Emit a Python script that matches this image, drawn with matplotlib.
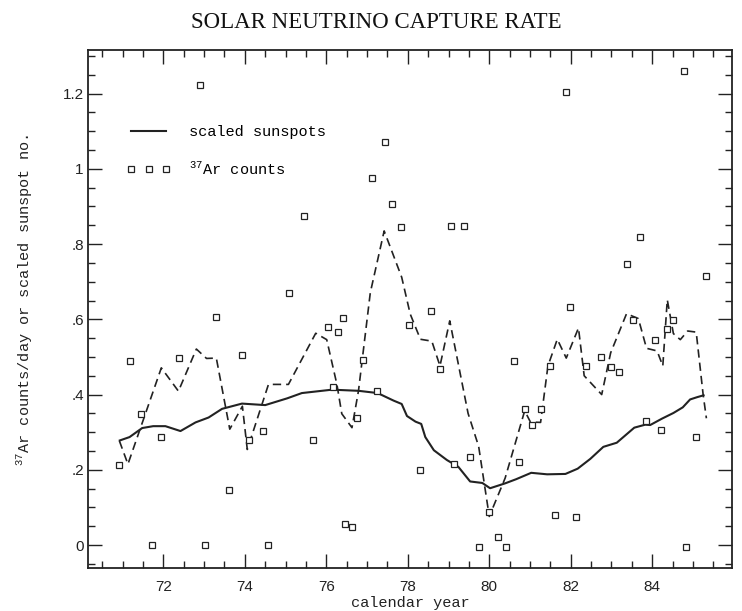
import matplotlib
matplotlib.use("Agg")
import matplotlib.pyplot as plt
from matplotlib.ticker import MultipleLocator, FixedLocator

plt.rcParams['mathtext.fontset'] = 'custom'
plt.rcParams['mathtext.rm'] = 'Liberation Mono'

# individual 37Ar runs (year, counts/day)
run_year = [70.92, 71.18, 71.45, 71.71, 71.95, 72.39, 72.91, 73.03, 73.30, 73.62,
            73.93, 74.09, 74.44, 74.56, 75.09, 75.46, 75.67, 76.03, 76.17, 76.28,
            76.40, 76.47, 76.62, 76.75, 76.90, 77.11, 77.25, 77.44, 77.61, 77.83,
            78.02, 78.29, 78.58, 78.80, 79.06, 79.13, 79.39, 79.53, 79.74, 79.99,
            80.21, 80.40, 80.60, 80.72, 80.88, 81.04, 81.28, 81.50, 81.62, 81.88,
            81.98, 82.14, 82.37, 82.75, 83.00, 83.19, 83.39, 83.52, 83.69, 83.85,
            84.06, 84.22, 84.37, 84.51, 84.79, 84.83, 85.07, 85.33]
run_rate = [0.213, 0.489, 0.349, 0.000, 0.288, 0.496, 1.222, 0.000, 0.605, 0.147,
            0.504, 0.279, 0.303, 0.000, 0.669, 0.874, 0.280, 0.580, 0.419, 0.567,
            0.603, 0.057, 0.047, 0.339, 0.492, 0.976, 0.409, 1.072, 0.906, 0.846,
            0.586, 0.199, 0.623, 0.468, 0.848, 0.215, 0.848, 0.235, -0.005, 0.087,
            0.021, -0.005, 0.488, 0.222, 0.361, 0.319, 0.361, 0.475, 0.080, 1.205,
            0.633, 0.074, 0.476, 0.501, 0.473, 0.460, 0.748, 0.599, 0.820, 0.329,
            0.544, 0.306, 0.573, 0.597, 1.259, -0.005, 0.288, 0.715]

# running mean of the runs (dashed)
avg_year = [70.92, 71.13, 71.95, 72.37, 72.81, 73.06, 73.30, 73.63, 73.94, 74.06,
            74.58, 75.07, 75.74, 76.01, 76.26, 76.38, 76.63, 76.79, 77.08, 77.42,
            77.85, 78.06, 78.31, 78.59, 78.79, 79.03, 79.48, 79.74, 80.00, 80.39,
            80.87, 81.01, 81.26, 81.44, 81.67, 81.89, 82.19, 82.33, 82.76, 82.98,
            83.37, 83.66, 83.86, 84.12, 84.26, 84.37, 84.52, 84.69, 84.87, 85.08,
            85.25, 85.33]
avg_rate = [0.277, 0.215, 0.471, 0.409, 0.521, 0.496, 0.497, 0.308, 0.369, 0.254,
            0.427, 0.427, 0.563, 0.546, 0.427, 0.349, 0.312, 0.410, 0.671, 0.835,
            0.712, 0.614, 0.547, 0.542, 0.476, 0.596, 0.350, 0.262, 0.076, 0.178,
            0.357, 0.327, 0.326, 0.476, 0.547, 0.497, 0.577, 0.450, 0.400, 0.511,
            0.615, 0.602, 0.523, 0.516, 0.476, 0.652, 0.562, 0.546, 0.569, 0.566,
            0.400, 0.337]

# scaled sunspot number (solid)
spot_year = [70.93, 71.17, 71.48, 71.75, 72.05, 72.42, 72.79, 73.11, 73.44, 73.93,
             74.50, 75.04, 75.40, 76.14, 76.79, 77.26, 77.65, 77.85, 77.98, 78.19,
             78.33, 78.43, 78.64, 78.96, 79.24, 79.53, 79.83, 80.02, 80.39, 80.66,
             81.03, 81.42, 81.87, 82.17, 82.48, 82.80, 83.13, 83.56, 83.83, 83.95,
             84.24, 84.52, 84.75, 84.93, 85.10, 85.26]
spot_val = [0.278, 0.287, 0.311, 0.316, 0.316, 0.303, 0.326, 0.339, 0.362, 0.376,
            0.372, 0.390, 0.404, 0.413, 0.410, 0.404, 0.384, 0.375, 0.343, 0.328,
            0.322, 0.287, 0.252, 0.226, 0.208, 0.169, 0.165, 0.151, 0.164, 0.175,
            0.192, 0.188, 0.189, 0.203, 0.229, 0.261, 0.272, 0.312, 0.320, 0.319,
            0.336, 0.351, 0.366, 0.387, 0.393, 0.398]

ytick_vals = [0, 0.2, 0.4, 0.6, 0.8, 1.0, 1.2]
ytick_text = ['0', '.2', '.4', '.6', '.8', '1', '1.2']

ink = '#222222'
mono = 'Liberation Mono'

fig = plt.figure(figsize=(7.42, 6.11), dpi=100)
ax = fig.add_axes([0.1186, 0.0704, 0.868, 0.8478])

ax.plot(spot_year, spot_val, '-', color=ink, lw=1.5, label='scaled sunspots')
ax.plot(avg_year, avg_rate, color=ink, lw=1.2, dashes=(5, 3))
ax.plot(run_year, run_rate, 's', ms=3.8, mfc='white', mec=ink, mew=0.9,
        ls='none', label='$^{37}$Ar counts')

ax.set_xlim(70.15, 85.96)
ax.set_ylim(-0.061, 1.316)

ax.xaxis.set_major_locator(MultipleLocator(2))
ax.xaxis.set_minor_locator(MultipleLocator(0.5))
ax.yaxis.set_major_locator(FixedLocator(ytick_vals))
ax.yaxis.set_minor_locator(MultipleLocator(0.05))
ax.set_yticklabels(ytick_text)

ax.tick_params(which='both', direction='in', top=True, right=True,
               color=ink, width=1.0, labelcolor=ink)
ax.tick_params(which='major', length=10, labelsize=11)
ax.tick_params(which='minor', length=5)
ax.tick_params(axis='x', pad=9)
ax.tick_params(axis='y', pad=3)
for lab in ax.get_xticklabels() + ax.get_yticklabels():
    lab.set_family('Liberation Sans')
for sp in ax.spines.values():
    sp.set_linewidth(1.3)
    sp.set_color(ink)

ax.set_xlabel('calendar year', family=mono, fontsize=11, color=ink, labelpad=1)
fig.text(25 / 742, 1 - 300 / 611, '$^{37}$Ar counts/day or scaled sunspot no.',
         rotation=90, ha='center', va='center', family=mono, fontsize=11, color=ink)
fig.text(376 / 742, 1 - 23 / 611, 'SOLAR NEUTRINO CAPTURE RATE',
         ha='center', va='center', family='Liberation Serif', fontsize=16.5, color='#111111')

ax.legend(loc='upper left', bbox_to_anchor=(0.06, 0.855), frameon=False,
          borderaxespad=0, borderpad=0, numpoints=3, handlelength=2.9,
          handletextpad=1.2, labelspacing=1.4,
          prop={'family': mono, 'size': 11})

fig.savefig('out.png', dpi=100, facecolor='white')
